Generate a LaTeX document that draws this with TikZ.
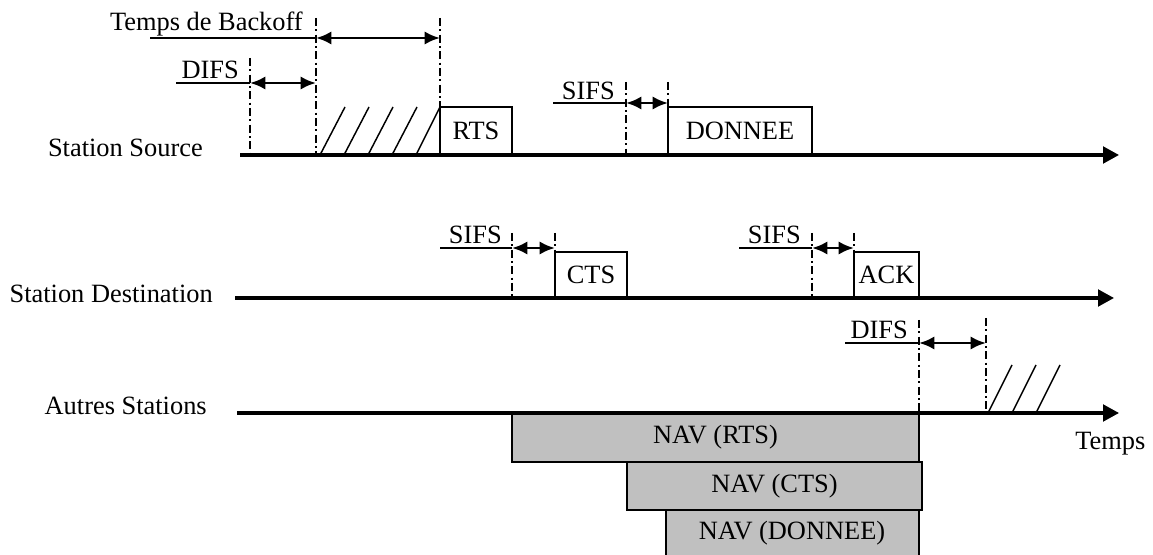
\documentclass[tikz,border=0pt]{standalone}
\usepackage{fontspec}
\setmainfont{Liberation Serif}
\usetikzlibrary{arrows.meta}
\definecolor{navgray}{HTML}{C0C0C0}
\begin{document}
\begin{tikzpicture}[x=0.75pt,y=-0.75pt,
  txt/.style={font=\fontsize{19.8pt}{23pt}\selectfont, inner sep=0pt},
  axis/.style={line width=2.3pt,-{Triangle[length=12pt,width=12.5pt]}},
  frame/.style={draw, line width=1.3pt, inner sep=0pt, font=\fontsize{19.8pt}{23pt}\selectfont},
  nav/.style={frame, fill=navgray},
  dd/.style={line width=2pt, dash pattern=on 6pt off 2.5pt on 1.5pt off 2.5pt},
  lbl/.style={line width=0.8pt},
  span/.style={line width=2.2pt,{Latex[length=11.5pt,width=10pt]}-{Latex[length=11.5pt,width=10pt]}},
  hatch/.style={line width=1.1pt}]
\useasboundingbox (0,0) rectangle (1153,555);
\clip (0,0) rectangle (1153,555);

% row labels
\node[txt,anchor=base east] (lsrc) at (203,157) {Station Source};
\node[txt,anchor=base east] (ldst) at (213,303) {Station Destination};
\node[txt,anchor=base east] (loth) at (207,415) {Autres Stations};
\node[txt,anchor=base west] (ltemps) at (1075,450) {Temps};

% axis coordinates
\coordinate (s0) at (240,155); \coordinate (s1) at (1119,155);
\coordinate (d0) at (235,298); \coordinate (d1) at (1114,298);
\coordinate (o0) at (237,413); \coordinate (o1) at (1119,413);

% NAV boxes
\node[nav,minimum width=305.25pt,minimum height=36.75pt] (navrts) at (715.5,437.5) {NAV (RTS)};
\node[nav,minimum width=221.25pt,minimum height=36pt] (navcts) at (774.5,486) {NAV (CTS)};
\node[nav,minimum width=189.75pt,minimum height=45pt] (navdon) at (792.5,540) {};
\node[txt] (navdontxt) at (792,533) {NAV (DONNEE)};

% axes
\draw[axis] (s0) -- (s1);
\draw[axis] (d0) -- (d1);
\draw[axis] (o0) -- (o1);

% frames
\node[frame,minimum width=54pt,minimum height=36pt] (rts) at (476,131) {RTS};
\node[frame,minimum width=108pt,minimum height=36pt] (don) at (740,131) {DONNEE};
\node[frame,minimum width=54pt,minimum height=34.5pt] (cts) at (591,275) {CTS};
\node[frame,minimum width=48.75pt,minimum height=34.5pt] (ack) at (886.5,275) {ACK};

% hatching source
\foreach \b/\t in {320/345,344/369,368/393,392/417,416/440}
  \draw[hatch] (\b,155) -- (\t,107);
% hatching others
\foreach \b/\t in {988/1012,1012/1036,1036/1060}
  \draw[hatch] (\b,413) -- (\t,365);

% vertical time marks
\draw[dd] (250,58) -- (250,155);
\draw[dd] (316,18) -- (316,155);
\draw[dd] (440,18) -- (440,155);
\draw[dd] (626,82) -- (626,155);
\draw[dd] (668,82) -- (668,107);
\draw[dd] (512,233) -- (512,298);
\draw[dd] (555,233) -- (555,252);
\draw[dd] (812,233) -- (812,298);
\draw[dd] (854,233) -- (854,252);
\draw[dd] (919,320) -- (919,413);
\draw[dd] (986,318) -- (986,413);

% Backoff
\node[txt,anchor=base east] (tbo) at (303,31) {Temps de Backoff};
\draw[lbl] (150,38) -- (316,38);
\draw[span] (316,38) -- (440,38);
% DIFS source
\node[txt,anchor=base east] (tdifs1) at (239,79) {DIFS};
\draw[lbl] (176,83) -- (250,83);
\draw[span] (250,83) -- (316,83);
% SIFS source
\node[txt,anchor=base east] (tsifs1) at (615,100) {SIFS};
\draw[lbl] (553,103) -- (626,103);
\draw[span] (626,103) -- (668,103);
% SIFS dest 1
\node[txt,anchor=base east] (tsifs2) at (502,244) {SIFS};
\draw[lbl] (440,248) -- (512,248);
\draw[span] (512,248) -- (555,248);
% SIFS dest 2
\node[txt,anchor=base east] (tsifs3) at (801,244) {SIFS};
\draw[lbl] (739,248) -- (812,248);
\draw[span] (812,248) -- (854,248);
% DIFS others
\node[txt,anchor=base east] (tdifs2) at (908,339) {DIFS};
\draw[lbl] (845,343) -- (919,343);
\draw[span] (919,343) -- (986,343);
\end{tikzpicture}
\end{document}
